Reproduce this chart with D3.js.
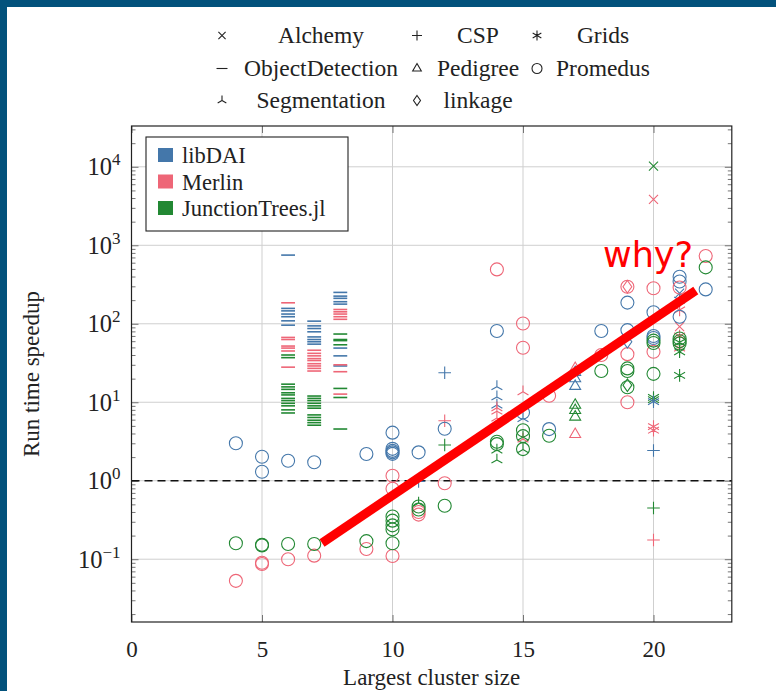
<!DOCTYPE html>
<html>
<head>
<meta charset="utf-8">
<script src="https://cdn.jsdelivr.net/npm/d3@7"></script>
<style>
  html, body { margin: 0; padding: 0; background: #fff; }
  svg { display: block; }
</style>
</head>
<body>
<svg id="chart" width="776" height="691"></svg>
<script>
// ---------------- DATA ----------------
const solvers = ["libDAI", "Merlin", "JunctionTrees.jl"];
const solverColors = ["#4477AA", "#EE6677", "#228833"];
const datasetNames = ["Alchemy", "CSP", "Grids", "ObjectDetection", "Pedigree", "Promedus", "Segmentation", "linkage"];
const datasetMarkers = ["cross", "plus", "asterisk", "dash", "triangle", "circle", "tri", "diamond"];
const xTicks = [0, 5, 10, 15, 20];
const yTicks = [-1, 0, 1, 2, 3, 4]; // exponents of 10
const xLabel = "Largest cluster size";
const yLabel = "Run time speedup";
const annotationText = "why?";
const annotationLine = [[7.3, 0.161], [21.62, 265]];

// each point: [largest cluster size, speedup, solver index]
const alchemy = [
  [20, 10200, 2], [20, 3850, 1], [21, 245, 0], [21, 92, 1]
];
const csp = [
  [11, 0.98, 0], [12, 23.8, 0], [12, 5.8, 1], [12, 2.85, 2],
  [20, 2.43, 0], [20, 0.45, 2], [20, 0.176, 1]
];
const grids = [
  [20, 11.5, 2], [20, 10.8, 2], [20, 10.2, 0], [20, 4.9, 1], [20, 4.4, 1],
  [21, 150, 1], [21, 70, 1], [21, 49, 1], [21, 58, 2], [21, 44, 2], [21, 22, 2], [21, 200, 0]
];
const objectDetection = [
  [6, 750, 0], [6, 157, 0], [6, 146, 0], [6, 133, 0], [6, 123, 0], [6, 109, 0], [6, 96, 0],
  [7, 108, 0], [7, 94, 0], [7, 87, 0], [7, 79, 0], [7, 68, 0], [7, 63, 0], [7, 59, 0], [7, 55, 0],
  [8, 251, 0], [8, 225, 0], [8, 211, 0], [8, 191, 0], [8, 178, 0], [8, 49, 0], [8, 39, 0], [8, 29, 0],
  [6, 185, 1], [6, 67, 1], [6, 63, 1], [6, 52, 1], [6, 49, 1], [6, 45, 1], [6, 28, 1],
  [7, 46, 1], [7, 42, 1], [7, 39, 1], [7, 36, 1], [7, 34, 1], [7, 31, 1], [7, 29, 1], [7, 27, 1], [7, 25, 1],
  [8, 152, 1], [8, 142, 1], [8, 133, 1], [8, 123, 1], [8, 114, 1], [8, 30, 1], [8, 24.5, 1], [8, 12.7, 1],
  [6, 40, 2], [6, 37, 2], [6, 17, 2], [6, 15.7, 2], [6, 14.6, 2], [6, 13.2, 2], [6, 12.4, 2], [6, 11.2, 2],
  [6, 10.5, 2], [6, 9.7, 2], [6, 9.0, 2], [6, 8.0, 2], [6, 7.3, 2],
  [7, 12, 2], [7, 11.2, 2], [7, 10.5, 2], [7, 9.7, 2], [7, 9.0, 2], [7, 8.4, 2], [7, 6.9, 2], [7, 6.4, 2],
  [7, 5.9, 2], [7, 5.5, 2], [7, 5.1, 2],
  [8, 74, 2], [8, 63, 2], [8, 61, 2], [8, 54, 2], [8, 15, 2], [8, 11.5, 2], [8, 4.56, 2]
];
const pedigree = [
  [17, 24, 0], [17, 20, 0], [17, 16, 0], [17, 27, 1], [17, 3.9, 1],
  [17, 9.2, 2], [17, 7.9, 2], [17, 6.5, 2]
];
const promedus = [
  [4, 3.0, 0], [5, 2.02, 0], [5, 1.3, 0], [6, 1.8, 0], [7, 1.72, 0], [9, 2.19, 0],
  [10, 4.1, 0], [10, 2.55, 0], [10, 2.4, 0], [10, 2.3, 0], [10, 2.2, 0], [11, 2.3, 0], [12, 4.6, 0],
  [14, 81, 0], [15, 7.4, 0], [16, 4.55, 0], [18, 81, 0], [19, 186, 0], [19, 83, 0],
  [20, 140, 0], [20, 70, 0], [20, 66, 0], [21, 398, 0], [21, 345, 0], [21, 123, 0], [22, 274, 0],
  [4, 0.053, 1], [5, 0.09, 1], [5, 0.087, 1], [6, 0.1, 1], [7, 0.111, 1], [9, 0.135, 1],
  [10, 1.16, 1], [10, 0.79, 1], [10, 0.11, 1], [11, 0.4, 1], [11, 0.37, 1], [12, 0.93, 1],
  [14, 493, 1], [15, 101, 1], [15, 49.5, 1], [16, 12.1, 1], [18, 40, 1],
  [19, 296, 1], [19, 41, 1], [19, 10, 1], [20, 283, 1], [20, 44, 1], [21, 290, 1], [22, 729, 1],
  [4, 0.16, 2], [5, 0.153, 2], [5, 0.15, 2], [6, 0.156, 2], [7, 0.156, 2], [9, 0.17, 2],
  [10, 0.35, 2], [10, 0.31, 2], [10, 0.27, 2], [10, 0.24, 2], [10, 0.16, 2],
  [11, 0.47, 2], [11, 0.43, 2], [12, 0.48, 2], [14, 3.14, 2], [14, 2.93, 2],
  [15, 4.4, 2], [15, 3.7, 2], [15, 2.53, 2], [16, 3.75, 2], [18, 25, 2],
  [19, 27, 2], [19, 25, 2], [19, 15.5, 2], [20, 61, 2], [20, 57, 2], [20, 23, 2],
  [21, 65, 2], [21, 60, 2], [21, 56, 2], [22, 523, 2]
];
const segmentation = [
  [14, 15.8, 0], [14, 11.7, 0], [14, 9.2, 0], [15, 6.2, 0],
  [14, 8.5, 1], [14, 7.7, 1], [14, 6.3, 1], [15, 13.6, 1], [15, 3.4, 1],
  [11, 0.52, 2], [14, 2.46, 2], [14, 1.84, 2], [15, 3.6, 2], [15, 2.5, 2]
];
const linkage = [
  [19, 296, 1], [19, 59, 0], [19, 16.5, 2]
];
const datasets = [alchemy, csp, grids, objectDetection, pedigree, promedus, segmentation, linkage];

// ---------------- CHART ----------------
const svg = d3.select("#chart");
const serif = "'Liberation Serif', 'Times New Roman', serif";
const plot = { left: 131.5, right: 731.8, top: 126, bottom: 622 };

const x = d3.scaleLinear().domain([0, 23]).range([plot.left, plot.right]);
const y = d3.scaleLog().domain([Math.pow(10, -1.8), Math.pow(10, 4.52)]).range([plot.bottom, plot.top]);

// page frame (dark blue strips)
svg.append("rect").attr("x", 0).attr("y", 0).attr("width", 776).attr("height", 7).attr("fill", "#03527c");
svg.append("rect").attr("x", 0).attr("y", 0).attr("width", 7).attr("height", 691).attr("fill", "#03527c");

function markerPath(type, s) {
  const p = d3.path();
  const h = s;
  switch (type) {
    case "cross": {
      const d = h * 0.72;
      p.moveTo(-d, -d); p.lineTo(d, d); p.moveTo(-d, d); p.lineTo(d, -d); break;
    }
    case "plus":
      p.moveTo(-h, 0); p.lineTo(h, 0); p.moveTo(0, -h); p.lineTo(0, h); break;
    case "asterisk":
      for (let a = 30; a < 360; a += 60) {
        const r = a * Math.PI / 180;
        p.moveTo(0, 0); p.lineTo(h * Math.cos(r), -h * Math.sin(r));
      }
      p.moveTo(0, -h); p.lineTo(0, h);
      break;
    case "dash":
      p.moveTo(-h * 1.1, 0); p.lineTo(h * 1.1, 0); break;
    case "triangle":
      p.moveTo(0, -h); p.lineTo(h * 0.866, h * 0.5); p.lineTo(-h * 0.866, h * 0.5); p.closePath(); break;
    case "circle":
      p.moveTo(h, 0); p.arc(0, 0, h, 0, 2 * Math.PI); break;
    case "tri":
      p.moveTo(0, 0); p.lineTo(0, -h);
      p.moveTo(0, 0); p.lineTo(-h * 0.866, h * 0.5);
      p.moveTo(0, 0); p.lineTo(h * 0.866, h * 0.5);
      break;
    case "diamond":
      p.moveTo(0, -h); p.lineTo(h * 0.7, 0); p.lineTo(0, h); p.lineTo(-h * 0.7, 0); p.closePath(); break;
  }
  return p.toString();
}

// grid
const gGrid = svg.append("g");
gGrid.selectAll("line.vg").data(xTicks.filter(d => d > 0)).join("line")
  .attr("x1", d => x(d)).attr("x2", d => x(d)).attr("y1", plot.top).attr("y2", plot.bottom)
  .attr("stroke", "#cfcfcf").attr("stroke-width", 1);
gGrid.selectAll("line.hg").data(yTicks).join("line")
  .attr("x1", plot.left).attr("x2", plot.right).attr("y1", d => y(Math.pow(10, d))).attr("y2", d => y(Math.pow(10, d)))
  .attr("stroke", "#cfcfcf").attr("stroke-width", 1);

// minor & major ticks (inward) on left and right
const minorVals = [];
for (let e = -2; e <= 4; e++) for (let m = 2; m <= 9; m++) {
  const v = m * Math.pow(10, e);
  if (v > y.domain()[0] && v < y.domain()[1]) minorVals.push(v);
}
const majorVals = yTicks.map(e => Math.pow(10, e));
function styleTicks(g) {
  g.select(".domain").remove();
  g.selectAll("line").attr("stroke", "#666").attr("stroke-width", 0.9);
  g.selectAll("text").remove();
}
svg.append("g").attr("transform", `translate(${plot.left},0)`)
  .call(d3.axisRight(y).tickValues(minorVals).tickSize(4).tickFormat(() => "")).call(styleTicks);
svg.append("g").attr("transform", `translate(${plot.left},0)`)
  .call(d3.axisRight(y).tickValues(majorVals).tickSize(7).tickFormat(() => "")).call(styleTicks);
svg.append("g").attr("transform", `translate(${plot.right},0)`)
  .call(d3.axisLeft(y).tickValues(minorVals).tickSize(4).tickFormat(() => "")).call(styleTicks);
svg.append("g").attr("transform", `translate(${plot.right},0)`)
  .call(d3.axisLeft(y).tickValues(majorVals).tickSize(7).tickFormat(() => "")).call(styleTicks);
svg.append("g").attr("transform", `translate(0,${plot.bottom})`)
  .call(d3.axisTop(x).tickValues(xTicks).tickSize(7).tickFormat(() => "")).call(styleTicks);
svg.append("g").attr("transform", `translate(0,${plot.top})`)
  .call(d3.axisBottom(x).tickValues(xTicks).tickSize(7).tickFormat(() => "")).call(styleTicks);

// x tick labels via axis
const xAxisG = svg.append("g").attr("transform", `translate(0,${plot.bottom})`)
  .call(d3.axisBottom(x).tickValues(xTicks).tickSize(0).tickPadding(19).tickFormat(d3.format("d")));
xAxisG.select(".domain").remove();
xAxisG.selectAll("text").attr("font-family", serif).attr("font-size", 23).attr("fill", "#222");

// y tick labels (10^n)
const yAxisG = svg.append("g").attr("transform", `translate(${plot.left},0)`)
  .call(d3.axisLeft(y).tickValues(majorVals).tickSize(0).tickFormat(() => ""));
yAxisG.select(".domain").remove();
yAxisG.selectAll(".tick text").each(function (d) {
  const t = d3.select(this);
  const e = Math.round(Math.log10(d));
  t.text(null).attr("x", -11).attr("dy", null).attr("y", 8)
    .attr("text-anchor", "end").attr("font-family", serif).attr("font-size", 24.5).attr("fill", "#222");
  t.append("tspan").text("10");
  t.append("tspan").attr("dy", -10).attr("font-size", 17).text(e < 0 ? "\u2212" + Math.abs(e) : String(e));
});

// dashed line at speedup 1
svg.append("line").attr("x1", plot.left).attr("x2", plot.right).attr("y1", y(1)).attr("y2", y(1))
  .attr("stroke", "#111").attr("stroke-width", 1.3).attr("stroke-dasharray", "8,5");

// data marks
const gData = svg.append("g");
datasets.forEach((ds, i) => {
  gData.append("g").selectAll("path").data(ds).join("path")
    .attr("transform", d => `translate(${x(d[0])},${y(d[1])})`)
    .attr("d", markerPath(datasetMarkers[i], datasetMarkers[i] === "circle" ? 6.5 : 6.3))
    .attr("fill", "none")
    .attr("stroke", d => solverColors[d[2]])
    .attr("stroke-width", datasetMarkers[i] === "dash" ? 1.6 : 1.1);
});

// frame
svg.append("rect").attr("x", plot.left).attr("y", plot.top)
  .attr("width", plot.right - plot.left).attr("height", plot.bottom - plot.top)
  .attr("fill", "none").attr("stroke", "#222").attr("stroke-width", 1.2);

// solver legend box
const lg = svg.append("g");
lg.append("rect").attr("x", 146).attr("y", 137).attr("width", 202).attr("height", 94)
  .attr("fill", "#fff").attr("stroke", "#222").attr("stroke-width", 1.1);
solvers.forEach((s, i) => {
  const yy = 155 + i * 26.5;
  lg.append("rect").attr("x", 158).attr("y", yy - 7).attr("width", 15).attr("height", 14).attr("fill", solverColors[i]);
  lg.append("text").attr("x", 182).attr("y", yy + 8).attr("font-family", serif).attr("font-size", 22.5)
    .attr("fill", "#222").text(s);
});

// dataset legend (top)
const colMarkerX = [222, 417, 537];
const colTextX = [321, 478, 603];
const rowBase = [42.5, 75.5, 107.5];
datasetNames.forEach((n, i) => {
  const col = i % 3, row = Math.floor(i / 3);
  svg.append("path")
    .attr("transform", `translate(${colMarkerX[col]},${rowBase[row] - 7})`)
    .attr("d", markerPath(datasetMarkers[i], 5))
    .attr("fill", "none").attr("stroke", "#222").attr("stroke-width", 1.1);
  svg.append("text").attr("x", colTextX[col]).attr("y", rowBase[row]).attr("text-anchor", "middle")
    .attr("font-family", serif).attr("font-size", 23.5).attr("fill", "#222").text(n);
});

// axis labels
svg.append("text").attr("x", (plot.left + plot.right) / 2).attr("y", 685).attr("text-anchor", "middle")
  .attr("font-family", serif).attr("font-size", 23).attr("fill", "#222").text(xLabel);
svg.append("text").attr("transform", `translate(39,${(plot.top + plot.bottom) / 2}) rotate(-90)`)
  .attr("text-anchor", "middle").attr("font-family", serif).attr("font-size", 23).attr("fill", "#222").text(yLabel);

// annotation
svg.append("line")
  .attr("x1", x(annotationLine[0][0])).attr("y1", y(annotationLine[0][1]))
  .attr("x2", x(annotationLine[1][0])).attr("y2", y(annotationLine[1][1]))
  .attr("stroke", "#ff0000").attr("stroke-width", 9);
svg.append("text").attr("x", 603).attr("y", 267)
  .attr("font-family", "'DejaVu Sans', sans-serif").attr("font-size", 35).attr("fill", "#ff0000").text(annotationText);
</script>
</body>
</html>
